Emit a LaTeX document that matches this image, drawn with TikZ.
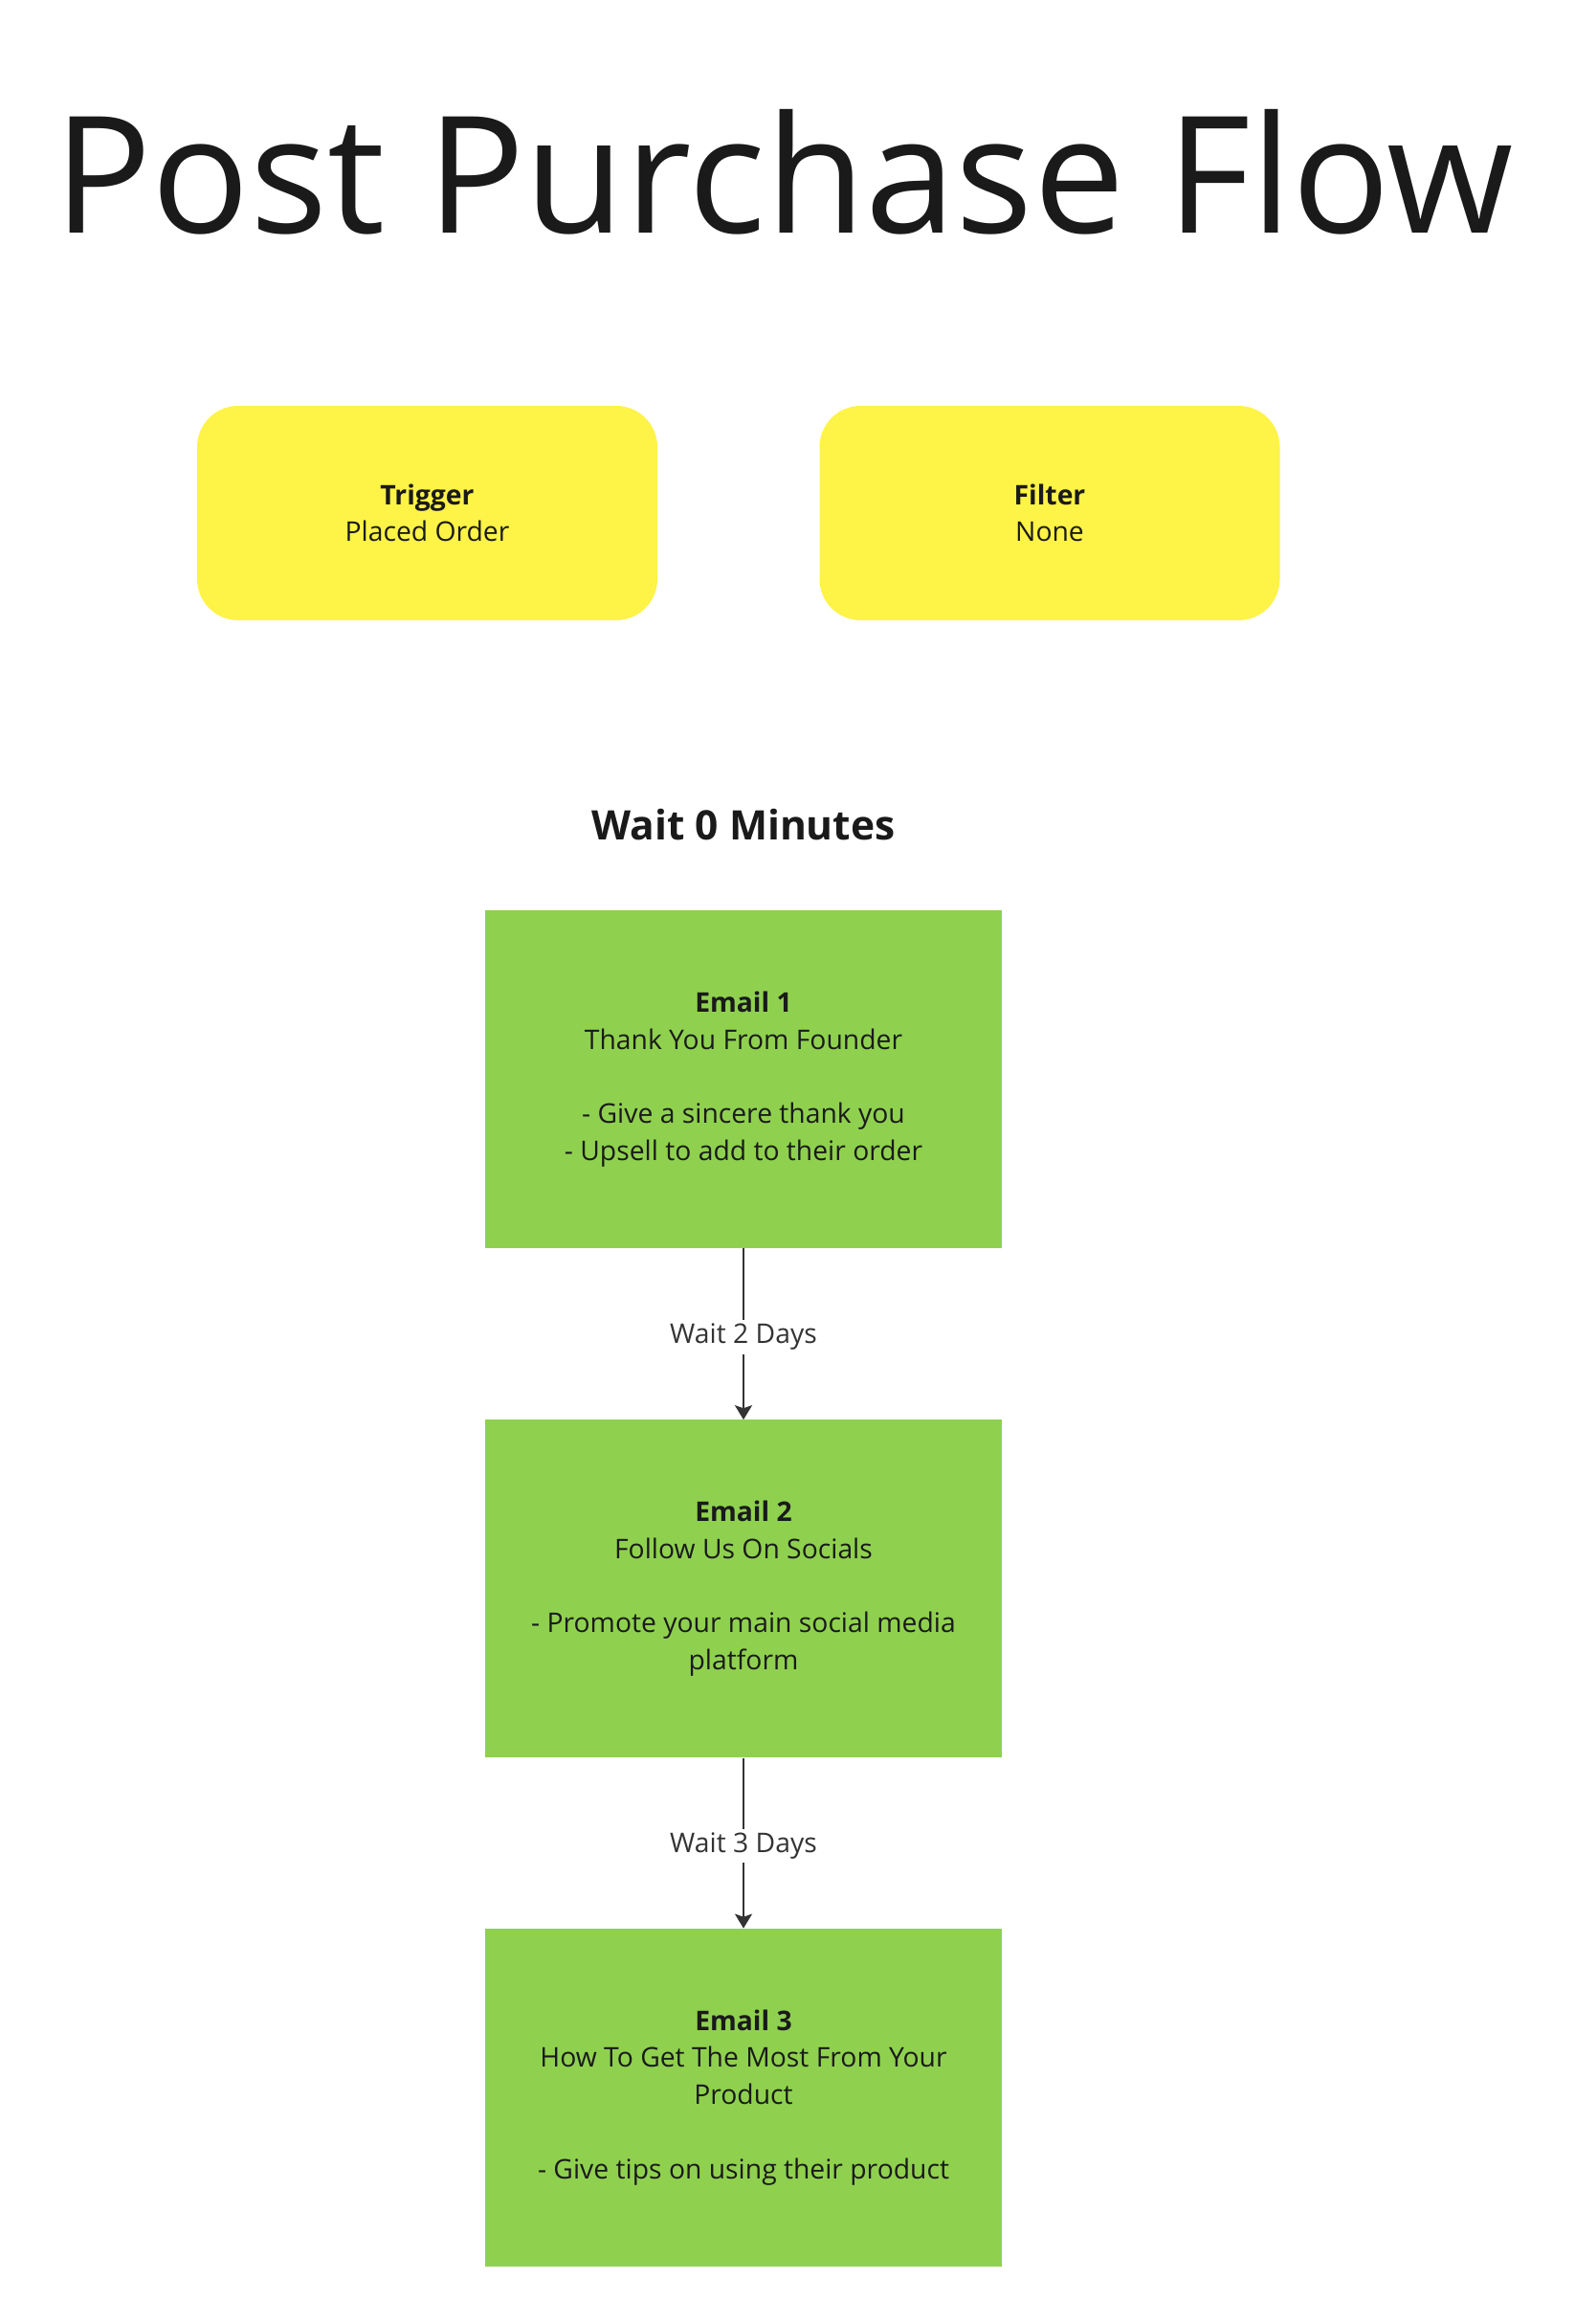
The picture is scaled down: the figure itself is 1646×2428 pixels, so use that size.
\documentclass[tikz,border=0pt]{standalone}
\usepackage{fontspec}
\setmainfont{Open Sans}
\usetikzlibrary{arrows.meta,positioning}
\definecolor{ink}{HTML}{1A1A1A}
\definecolor{stickyyellow}{HTML}{FEF347}
\definecolor{stickygreen}{HTML}{8FD14F}
\definecolor{arrowgray}{HTML}{333333}
\begin{document}
\begin{tikzpicture}[x=1pt,y=-1pt,
  txt/.style={text=ink,align=center,font={\fontsize{28.3}{38.7}\selectfont}},
  setup/.style={txt,fill=stickyyellow,rounded corners=43pt,
    minimum width=481pt,minimum height=224pt,inner sep=0pt},
  email/.style={txt,fill=stickygreen,minimum width=540pt,
    minimum height=353pt,inner sep=0pt},
  flow/.style={arrowgray,line width=2pt,
    -{Stealth[length=15pt,width=18pt,inset=3pt]}},
  waitlbl/.style={fill=white,text=arrowgray,inner sep=4pt,yshift=-3pt,
    font={\fontsize{28.3}{38.7}\selectfont}}]
\useasboundingbox (0,0) rectangle (1646,2428);
\node[anchor=base,text=ink,font={\fontsize{170}{200}\selectfont}] (title)
  at (819,243) {Post Purchase Flow};
\node[setup] (trigger) at (446.5,536) {\textbf{Trigger}\\Placed Order};
\node[setup] (filter) at (1097,536) {\textbf{Filter}\\None};
\node[text=ink,anchor=base,font={\fontsize{42.5}{50}\selectfont\bfseries}] (wait0)
  at (777,877) {Wait 0 Minutes};
\node[email] (e1) at (777,1127.5) {\textbf{Email 1}\\Thank You From Founder\\[38.7pt]
  - Give a sincere thank you\\- Upsell to add to their order};
\node[email,below=179pt of e1] (e2) {\textbf{Email 2}\\Follow Us On Socials\\[38.7pt]
  - Promote your main social media\\platform};
\node[email,below=178pt of e2] (e3) {\textbf{Email 3}\\How To Get The Most From Your\\Product\\[38.7pt]
  - Give tips on using their product};
\draw[flow] (e1) -- node[waitlbl] {Wait 2 Days} (e2);
\draw[flow] (e2) -- node[waitlbl] {Wait 3 Days} (e3);
\end{tikzpicture}
\end{document}
